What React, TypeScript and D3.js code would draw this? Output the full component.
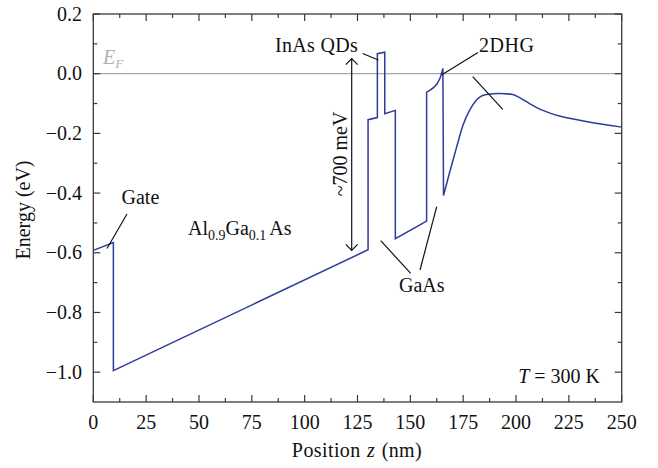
import React from "react";
import * as d3 from "d3";

// piecewise-linear part of the band profile
const stepZ: number[] = [0, 9.5, 9.5, 130, 130, 134.4, 134.4, 137.9, 137.9, 142.9, 142.9, 157.7, 157.7];
const stepE: number[] = [-0.592, -0.566, -0.995, -0.59, -0.154, -0.147, 0.067, 0.072, -0.134, -0.123, -0.553, -0.494, -0.062];
// curved rise into the 2DHG spike
const spikeZ: number[] = [157.7, 159.3, 161.2, 162.8, 164.2, 165.4];
const spikeE: number[] = [-0.062, -0.055, -0.045, -0.032, -0.012, 0.018];
// tail after the spike
const tailZ: number[] = [165.7, 168.6, 171.7, 174.9, 178, 181.2, 185.9, 192.2, 198.5, 201.6, 206.4, 212.7, 220.6, 233.2, 250];
const tailE: number[] = [-0.408, -0.33, -0.251, -0.173, -0.123, -0.089, -0.07, -0.066, -0.07, -0.08, -0.1, -0.123, -0.142, -0.16, -0.179];

const xMajorTicks: number[] = [0, 25, 50, 75, 100, 125, 150, 175, 200, 225, 250];
const xMinorTicks: number[] = [12.5, 37.5, 62.5, 87.5, 112.5, 137.5, 162.5, 187.5, 212.5, 237.5];
const yMajorTicks: number[] = [-1.0, -0.8, -0.6, -0.4, -0.2, 0.0, 0.2];
const yMinorTicks: number[] = [-0.9, -0.7, -0.5, -0.3, -0.1, 0.1];
const fermiLevel = 0.0;

const W = 658;
const H = 468;
const L = 93.3;
const R = 621.7;
const T = 14;
const B = 402;
const FONT = "Liberation Serif, DejaVu Serif, serif";
const AX = "#3a3a3a";
const BLUE = "#2e3a9c";

export default function App() {
  const x = d3.scaleLinear().domain([0, 250]).range([L, R]);
  const y = d3.scaleLinear().domain([-1.1, 0.2]).range([B, T]);
  const zip = (zs: number[], es: number[]): [number, number][] => zs.map((z, i) => [z, es[i]]);
  const lin = d3.line<[number, number]>().x((d) => x(d[0])).y((d) => y(d[1]));
  const smooth = d3
    .line<[number, number]>()
    .x((d) => x(d[0]))
    .y((d) => y(d[1]))
    .curve(d3.curveMonotoneX);
  const pathD =
    (lin(zip(stepZ, stepE)) || "") +
    (smooth(zip(spikeZ, spikeE)) || "").replace(/^M/, "L") +
    (smooth(zip(tailZ, tailE)) || "").replace(/^M/, "L");
  const fmt = d3.format(".1f");
  const MAJ = 7;
  const MIN = 4;

  return (
    <svg
      width={W}
      height={H}
      viewBox={`0 0 ${W} ${H}`}
      style={{ position: "absolute", left: 0, top: 0, background: "#fff", fontFamily: FONT }}
    >
      <rect x={0} y={0} width={W} height={H} fill="#fff" />
      <line x1={L} x2={R} y1={y(fermiLevel)} y2={y(fermiLevel)} stroke="#a8a8a8" strokeWidth={1.3} />
      <text x={103} y={63.5} fill="#b0b0b0" fontSize={20} fontStyle="italic">
        E
        <tspan fontSize={13} dy={4}>F</tspan>
      </text>

      <path d={pathD} fill="none" stroke={BLUE} strokeWidth={1.5} strokeLinejoin="miter" />

      <rect x={L} y={T} width={R - L} height={B - T} fill="none" stroke={AX} strokeWidth={1.3} />
      {xMajorTicks.map((t) => (
        <g key={"xM" + t}>
          <line x1={x(t)} x2={x(t)} y1={B} y2={B - MAJ} stroke={AX} strokeWidth={1.2} />
          <line x1={x(t)} x2={x(t)} y1={T} y2={T + MAJ} stroke={AX} strokeWidth={1.2} />
          <text x={x(t)} y={428.5} textAnchor="middle" fontSize={20} fill="#111">
            {t}
          </text>
        </g>
      ))}
      {xMinorTicks.map((t) => (
        <g key={"xm" + t}>
          <line x1={x(t)} x2={x(t)} y1={B} y2={B - MIN} stroke={AX} strokeWidth={1.2} />
          <line x1={x(t)} x2={x(t)} y1={T} y2={T + MIN} stroke={AX} strokeWidth={1.2} />
        </g>
      ))}
      {yMajorTicks.map((t) => (
        <g key={"yM" + t}>
          <line x1={L} x2={L + MAJ} y1={y(t)} y2={y(t)} stroke={AX} strokeWidth={1.2} />
          <line x1={R} x2={R - MAJ} y1={y(t)} y2={y(t)} stroke={AX} strokeWidth={1.2} />
          <text x={82} y={y(t) + 6.5} textAnchor="end" fontSize={20} fill="#111">
            {fmt(t)}
          </text>
        </g>
      ))}
      {yMinorTicks.map((t) => (
        <g key={"ym" + t}>
          <line x1={L} x2={L + MIN} y1={y(t)} y2={y(t)} stroke={AX} strokeWidth={1.2} />
          <line x1={R} x2={R - MIN} y1={y(t)} y2={y(t)} stroke={AX} strokeWidth={1.2} />
        </g>
      ))}

      <text x={357} y={457} textAnchor="middle" fontSize={20} fill="#111" letterSpacing={0.4}>
        {"Position "}
        <tspan dx={1} fontStyle="italic">z</tspan>
        <tspan dx={1}>{" (nm)"}</tspan>
      </text>
      <text transform="translate(30,210) rotate(-90)" textAnchor="middle" fontSize={20} fill="#111">
        Energy (eV)
      </text>

      <g fill="#111" fontSize={20}>
        <text x={121.5} y={204}>Gate</text>
        <text x={188} y={235}>
          Al<tspan fontSize={14} dy={5}>0.9</tspan>
          <tspan dy={-5}>Ga</tspan>
          <tspan fontSize={14} dy={5}>0.1</tspan>
          <tspan dy={-5} dx={3}>As</tspan>
        </text>
        <text x={358} y={51.7} textAnchor="end" letterSpacing={0.3}>InAs QDs</text>
        <text x={479} y={52.3} letterSpacing={0.5}>2DHG</text>
        <text x={399} y={291.7}>GaAs</text>
        <text x={600} y={383.3} textAnchor="end">
          <tspan fontStyle="italic">T</tspan>
          {" = 300 K"}
        </text>
        <text transform="translate(346.5,154) rotate(-90)" textAnchor="middle" fontSize={20}>
          ~700 meV
        </text>
      </g>
      <g stroke="#111" strokeWidth={1.2} fill="none">
        <line x1={127} y1={214} x2={107} y2={248.5} />
        <line x1={362.7} y1={53.5} x2={378.3} y2={60} />
        <line x1={478} y1={52.5} x2={441.5} y2={75} />
        <line x1={472.7} y1={76.7} x2={502.7} y2={109.3} />
        <line x1={380.7} y1={240.7} x2={410.7} y2={273.3} />
        <line x1={436.7} y1={206.7} x2={420} y2={270} />
        <line x1={351.7} y1={58.5} x2={351.7} y2={250.5} />
        <polyline points="345.8,64.6 351.7,58.5 357.6,64.6" />
        <polyline points="345.8,244.4 351.7,250.5 357.6,244.4" />
      </g>
    </svg>
  );
}
